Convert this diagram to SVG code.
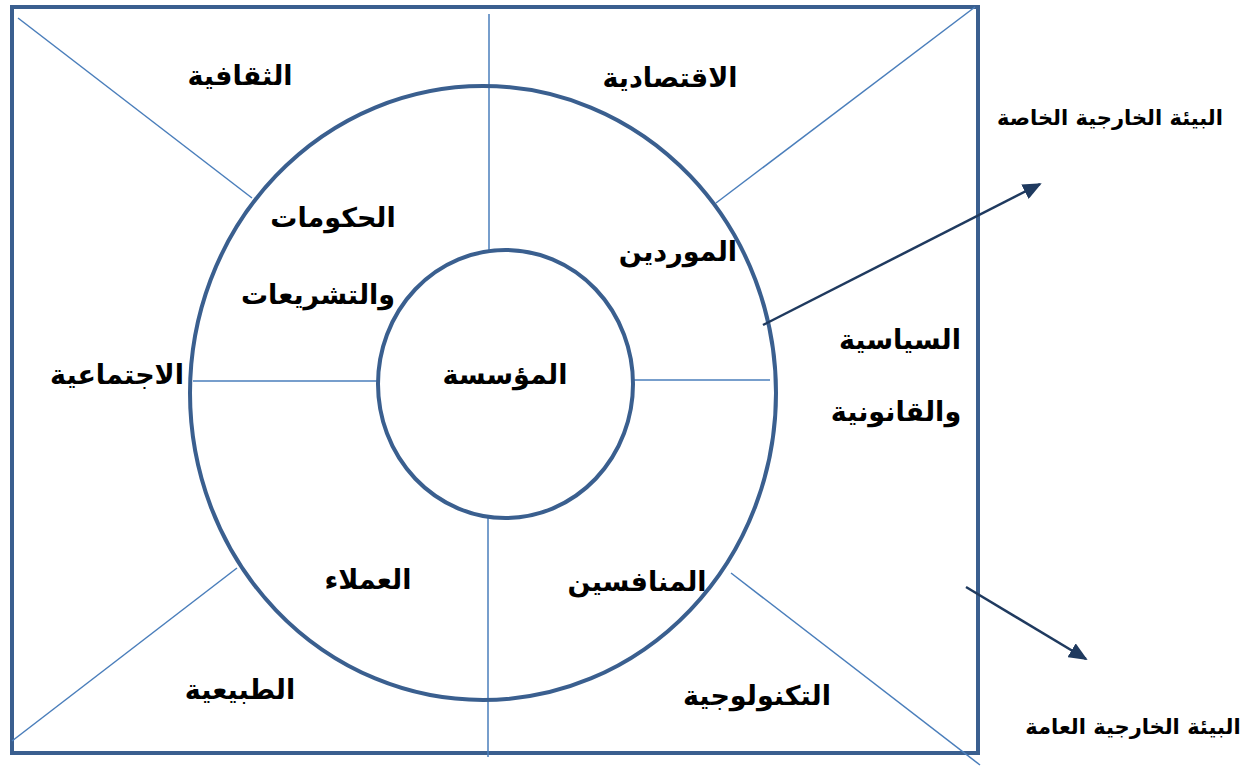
<svg xmlns="http://www.w3.org/2000/svg" width="1253" height="767" viewBox="0 0 1253 767">
<defs>
<style>
.frame{fill:none;stroke:#3a5f8f;stroke-width:4}
.ring{fill:none;stroke:#3a5f8f;stroke-width:4}
.div{stroke:#4a7ebb;stroke-width:1.5;fill:none}
.arr{stroke:#1f3a5f;stroke-width:2.5;fill:none}
.t{font-family:"DejaVu Sans",sans-serif;font-weight:bold;font-size:27px;fill:#000;text-anchor:middle}
.s{font-family:"DejaVu Sans",sans-serif;font-weight:bold;font-size:21px;fill:#000;text-anchor:middle}
</style>
<marker id="ah" viewBox="0 0 10 10" refX="9" refY="5" markerWidth="7.5" markerHeight="6.5" markerUnits="strokeWidth" orient="auto" preserveAspectRatio="none">
<path d="M0,0 L10,5 L0,10 z" fill="#1f3a5f"/>
</marker>
</defs>
<rect x="0" y="0" width="1253" height="767" fill="#fff"/>
<g id="frame"><rect class="frame" x="12" y="7" width="966" height="746"/></g>
<g id="dividers">
<line class="div" x1="18" y1="18" x2="252" y2="198"/>
<line class="div" x1="975" y1="7" x2="716" y2="203"/>
<line class="div" x1="12" y1="741" x2="237" y2="568"/>
<line class="div" x1="731" y1="573" x2="980" y2="765"/>
<line class="div" x1="489" y1="14" x2="489" y2="250"/>
<line class="div" x1="488" y1="518" x2="488" y2="757"/>
<line class="div" x1="193" y1="381" x2="378" y2="381"/>
<line class="div" x1="633" y1="380" x2="770" y2="380"/>
</g>
<g id="outer-ring"><ellipse class="ring" cx="483" cy="393" rx="293" ry="307"/></g>
<g id="inner-circle"><ellipse class="ring" cx="505.5" cy="384" rx="127.5" ry="134"/></g>
<g id="connectors">
<line class="arr" x1="763" y1="325" x2="1040" y2="184" marker-end="url(#ah)"/>
<line class="arr" x1="966" y1="587" x2="1086" y2="659" marker-end="url(#ah)"/>
</g>
<g id="labels">
<text class="t" x="240" y="85">الثقافية</text>
<text class="t" x="670" y="87">الاقتصادية</text>
<text class="t" x="333" y="227">الحكومات</text>
<text class="t" x="318" y="304">والتشريعات</text>
<text class="t" x="678" y="261">الموردين</text>
<text class="t" x="505" y="384">المؤسسة</text>
<text class="t" x="117" y="384">الاجتماعية</text>
<text class="t" x="900" y="349">السياسية</text>
<text class="t" x="896" y="421">والقانونية</text>
<text class="t" x="368" y="589">العملاء</text>
<text class="t" x="637" y="591">المنافسين</text>
<text class="t" x="240" y="699">الطبيعية</text>
<text class="t" x="757" y="705">التكنولوجية</text>
<text class="s" x="1110" y="125">البيئة الخارجية الخاصة</text>
<text class="s" x="1133" y="734">البيئة الخارجية العامة</text>
</g>
</svg>
